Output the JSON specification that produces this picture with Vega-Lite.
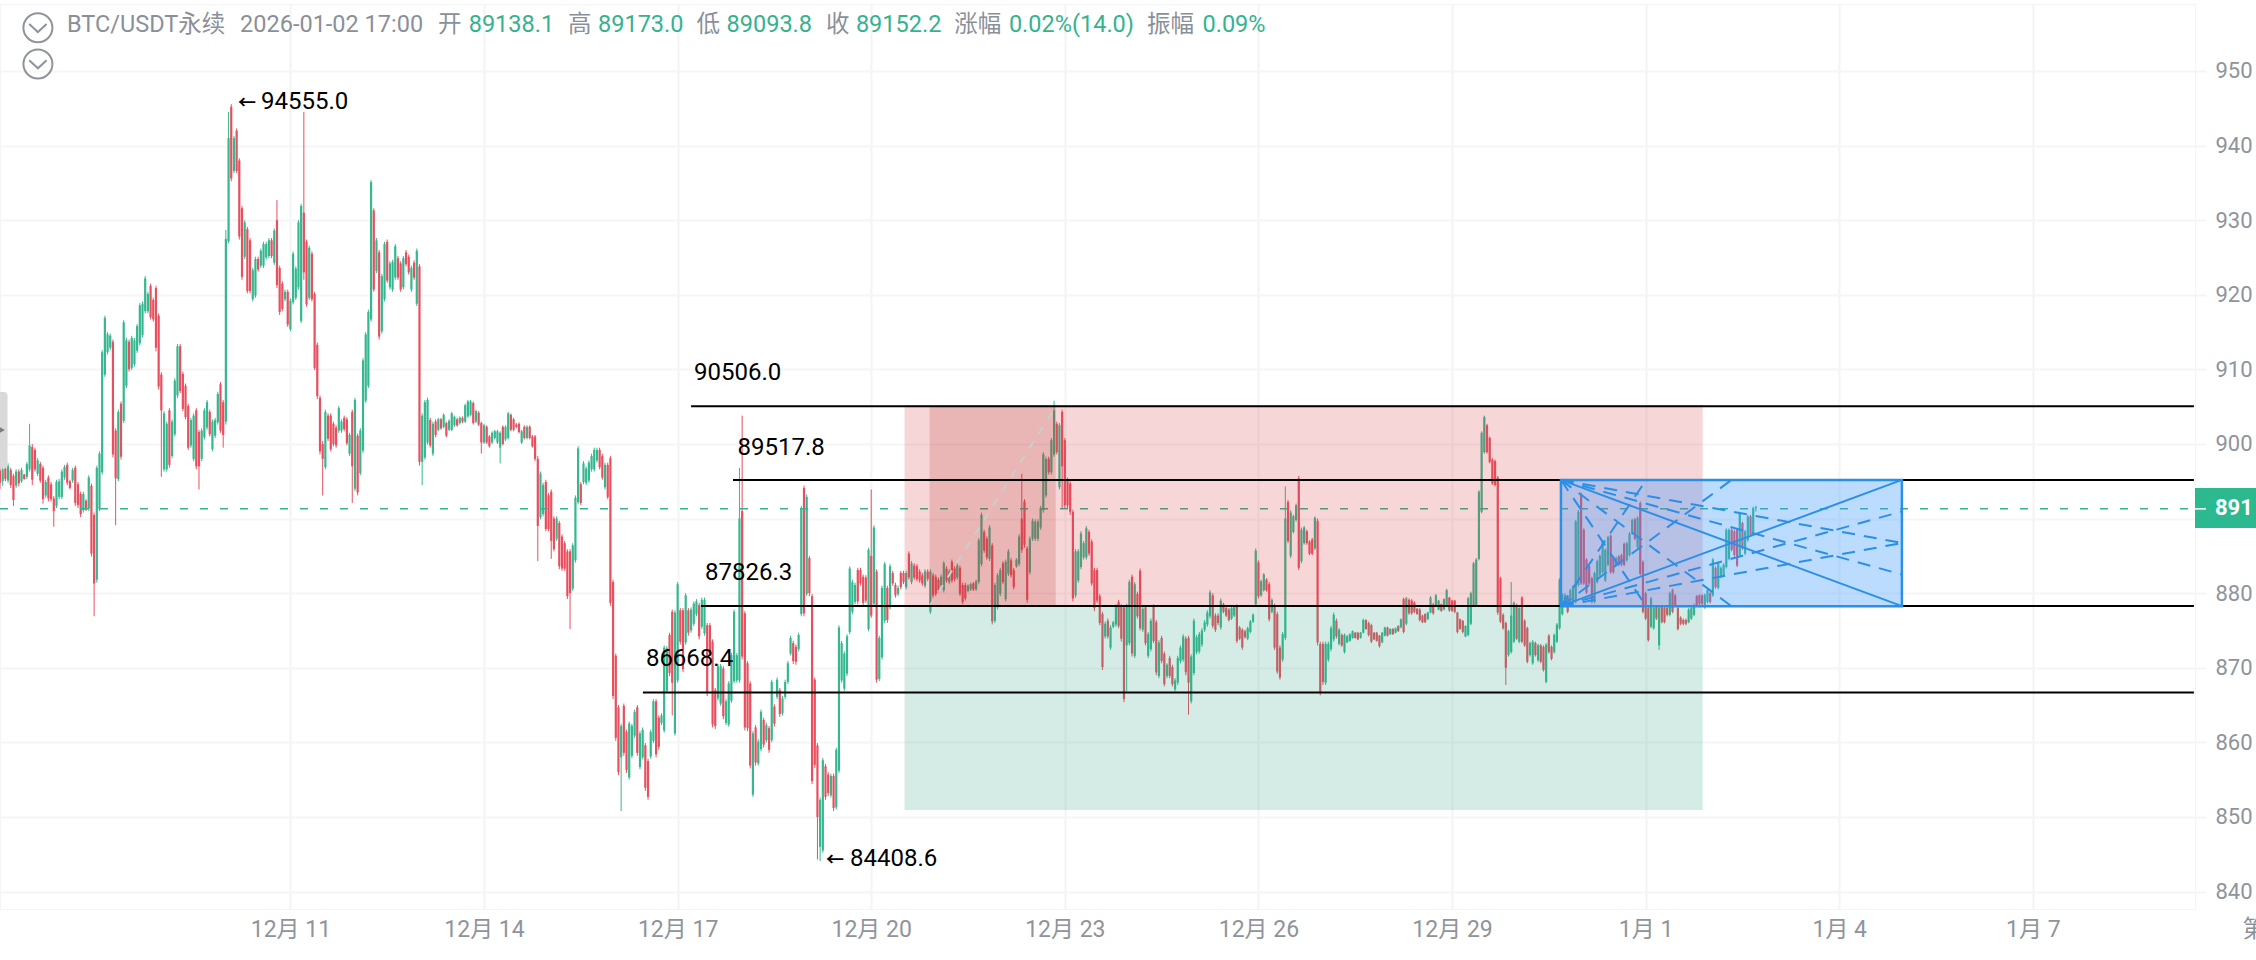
{"$schema":"https://vega.github.io/schema/vega-lite/v6.json","width":2195,"height":905,"autosize":"none","padding":{"top":4,"left":0,"right":61,"bottom":51},"background":"white","config":{"view":{"stroke":"#f3f4f6"},"font":"Roboto, Noto Sans CJK SC"},
"datasets":{"candles":[
{"i":0,"o":89640,"h":89700,"l":89400,"c":89480},{"i":1,"o":89500,"h":89720,"l":89440,"c":89660},{"i":2,"o":89670,"h":89700,"l":89500,"c":89530},{"i":3,"o":89510,"h":89740,"l":89480,"c":89700},{"i":4,"o":89650,"h":89680,"l":89410,"c":89450},{"i":5,"o":89570,"h":89600,"l":89170,"c":89250},{"i":6,"o":89440,"h":89660,"l":89410,"c":89630},{"i":7,"o":89630,"h":89660,"l":89430,"c":89470},{"i":8,"o":89500,"h":89680,"l":89480,"c":89650},{"i":9,"o":89590,"h":89600,"l":89520,"c":89530},{"i":10,"o":89560,"h":89760,"l":89530,"c":89730},{"i":11,"o":89660,"h":90270,"l":89630,"c":89980},{"i":12,"o":89960,"h":90000,"l":89450,"c":89520},{"i":13,"o":89920,"h":89950,"l":89630,"c":89660},{"i":14,"o":89600,"h":89810,"l":89570,"c":89780},{"i":15,"o":89730,"h":89760,"l":89480,"c":89510},{"i":16,"o":89680,"h":89710,"l":89200,"c":89260},{"i":17,"o":89310,"h":89520,"l":89280,"c":89490},{"i":18,"o":89550,"h":89580,"l":89230,"c":89270},{"i":19,"o":89460,"h":89490,"l":89230,"c":89260},{"i":20,"o":89270,"h":89300,"l":88890,"c":89100},{"i":21,"o":89170,"h":89520,"l":89140,"c":89490},{"i":22,"o":89290,"h":89530,"l":89260,"c":89500},{"i":23,"o":89290,"h":89660,"l":89260,"c":89630},{"i":24,"o":89550,"h":89720,"l":89520,"c":89690},{"i":25,"o":89720,"h":89750,"l":89450,"c":89480},{"i":26,"o":89500,"h":89520,"l":89390,"c":89410},{"i":27,"o":89510,"h":89680,"l":89480,"c":89650},{"i":28,"o":89680,"h":89710,"l":89170,"c":89210},{"i":29,"o":89460,"h":89490,"l":89140,"c":89180},{"i":30,"o":89330,"h":89360,"l":89020,"c":89060},{"i":31,"o":89110,"h":89360,"l":89080,"c":89330},{"i":32,"o":89240,"h":89260,"l":89100,"c":89120},{"i":33,"o":89130,"h":89580,"l":89100,"c":89550},{"i":34,"o":89440,"h":89470,"l":88490,"c":88530},{"i":35,"o":89050,"h":89080,"l":87690,"c":88130},{"i":36,"o":88180,"h":89710,"l":88140,"c":89680},{"i":37,"o":89130,"h":89900,"l":89100,"c":89870},{"i":38,"o":89620,"h":91260,"l":89590,"c":91230},{"i":39,"o":90930,"h":91720,"l":90900,"c":91690},{"i":40,"o":91230,"h":91500,"l":91200,"c":91470},{"i":41,"o":91290,"h":91480,"l":91260,"c":91450},{"i":42,"o":91370,"h":91400,"l":89820,"c":89860},{"i":43,"o":90180,"h":90210,"l":88910,"c":89540},{"i":44,"o":89530,"h":90460,"l":89500,"c":90430},{"i":45,"o":90540,"h":90570,"l":89790,"c":89830},{"i":46,"o":90310,"h":91660,"l":90280,"c":91630},{"i":47,"o":90780,"h":91420,"l":90750,"c":91390},{"i":48,"o":91370,"h":91400,"l":90970,"c":91000},{"i":49,"o":91020,"h":91450,"l":90990,"c":91420},{"i":50,"o":91070,"h":91420,"l":91040,"c":91390},{"i":51,"o":91250,"h":91610,"l":91220,"c":91580},{"i":52,"o":91350,"h":91890,"l":91320,"c":91860},{"i":53,"o":91460,"h":91910,"l":91430,"c":91880},{"i":54,"o":91780,"h":92250,"l":91750,"c":92220},{"i":55,"o":91780,"h":92040,"l":91750,"c":92010},{"i":56,"o":92120,"h":92150,"l":91670,"c":91700},{"i":57,"o":91930,"h":91960,"l":91640,"c":91670},{"i":58,"o":92090,"h":92120,"l":91240,"c":91290},{"i":59,"o":91720,"h":91750,"l":90730,"c":90770},{"i":60,"o":90930,"h":90960,"l":89560,"c":90450},{"i":61,"o":89660,"h":90440,"l":89630,"c":90410},{"i":62,"o":89660,"h":90300,"l":89630,"c":90270},{"i":63,"o":90450,"h":90480,"l":89680,"c":89720},{"i":64,"o":89840,"h":90330,"l":89810,"c":90300},{"i":65,"o":90130,"h":90880,"l":90100,"c":90850},{"i":66,"o":90650,"h":91340,"l":90620,"c":91310},{"i":67,"o":91310,"h":91340,"l":90680,"c":90710},{"i":68,"o":90940,"h":90970,"l":90440,"c":90470},{"i":69,"o":90780,"h":90810,"l":90330,"c":90360},{"i":70,"o":90510,"h":90540,"l":89920,"c":89950},{"i":71,"o":89980,"h":90350,"l":89950,"c":90320},{"i":72,"o":89800,"h":90410,"l":89770,"c":90380},{"i":73,"o":90450,"h":90480,"l":89660,"c":89700},{"i":74,"o":90160,"h":90190,"l":89390,"c":89700},{"i":75,"o":89800,"h":90210,"l":89770,"c":90180},{"i":76,"o":90090,"h":90480,"l":90060,"c":90450},{"i":77,"o":90220,"h":90590,"l":90190,"c":90560},{"i":78,"o":90430,"h":90460,"l":90100,"c":90130},{"i":79,"o":89930,"h":90330,"l":89900,"c":90300},{"i":80,"o":90110,"h":90350,"l":90080,"c":90320},{"i":81,"o":90290,"h":90700,"l":90260,"c":90670},{"i":82,"o":90800,"h":90830,"l":90150,"c":90180},{"i":83,"o":90560,"h":90590,"l":89950,"c":90120},{"i":84,"o":90300,"h":92870,"l":90260,"c":92750},{"i":85,"o":92720,"h":94450,"l":92690,"c":94100},{"i":86,"o":94520,"h":94555,"l":93520,"c":93560},{"i":87,"o":93660,"h":94130,"l":93630,"c":94100},{"i":88,"o":94200,"h":94230,"l":93630,"c":93660},{"i":89,"o":93800,"h":93830,"l":92740,"c":92780},{"i":90,"o":93160,"h":93190,"l":92200,"c":92240},{"i":91,"o":92510,"h":93000,"l":92480,"c":92970},{"i":92,"o":92880,"h":92910,"l":92020,"c":92050},{"i":93,"o":92730,"h":92760,"l":92020,"c":92050},{"i":94,"o":91940,"h":92360,"l":91910,"c":92330},{"i":95,"o":91990,"h":92510,"l":91960,"c":92480},{"i":96,"o":92480,"h":92510,"l":92310,"c":92340},{"i":97,"o":92390,"h":92620,"l":92360,"c":92590},{"i":98,"o":92390,"h":92710,"l":92360,"c":92680},{"i":99,"o":92500,"h":92710,"l":92470,"c":92680},{"i":100,"o":92520,"h":92760,"l":92490,"c":92730},{"i":101,"o":92730,"h":92760,"l":92490,"c":92520},{"i":102,"o":92430,"h":92890,"l":92400,"c":92860},{"i":103,"o":93000,"h":93270,"l":92090,"c":92130},{"i":104,"o":92360,"h":92390,"l":91730,"c":91770},{"i":105,"o":92150,"h":92180,"l":91780,"c":91810},{"i":106,"o":91940,"h":92070,"l":91910,"c":92040},{"i":107,"o":92040,"h":92070,"l":91570,"c":91600},{"i":108,"o":91540,"h":91950,"l":91510,"c":91920},{"i":109,"o":91900,"h":92580,"l":91870,"c":92550},{"i":110,"o":91960,"h":92380,"l":91930,"c":92350},{"i":111,"o":92100,"h":93000,"l":92070,"c":92970},{"i":112,"o":91650,"h":93220,"l":91620,"c":93190},{"i":113,"o":93100,"h":94450,"l":92200,"c":92300},{"i":114,"o":92710,"h":92740,"l":91840,"c":91870},{"i":115,"o":91960,"h":92660,"l":91930,"c":92630},{"i":116,"o":92550,"h":92580,"l":91910,"c":91940},{"i":117,"o":92010,"h":92040,"l":90990,"c":91020},{"i":118,"o":91330,"h":91360,"l":90600,"c":90640},{"i":119,"o":90620,"h":90650,"l":89860,"c":89900},{"i":120,"o":90000,"h":90040,"l":89310,"c":89800},{"i":121,"o":89690,"h":90460,"l":89660,"c":90430},{"i":122,"o":90380,"h":90410,"l":90040,"c":90070},{"i":123,"o":90380,"h":90410,"l":89900,"c":89930},{"i":124,"o":90270,"h":90300,"l":89970,"c":90000},{"i":125,"o":90220,"h":90250,"l":89950,"c":89980},{"i":126,"o":90180,"h":90510,"l":90150,"c":90480},{"i":127,"o":90180,"h":90330,"l":90150,"c":90300},{"i":128,"o":90350,"h":90380,"l":90170,"c":90200},{"i":129,"o":90330,"h":90360,"l":89980,"c":90010},{"i":130,"o":89870,"h":90150,"l":89840,"c":90120},{"i":131,"o":90430,"h":90460,"l":89210,"c":89700},{"i":132,"o":89400,"h":90620,"l":89370,"c":90590},{"i":133,"o":90110,"h":90140,"l":89310,"c":89350},{"i":134,"o":89610,"h":90210,"l":89580,"c":90180},{"i":135,"o":89910,"h":91150,"l":89880,"c":91120},{"i":136,"o":90580,"h":91500,"l":90550,"c":91470},{"i":137,"o":90780,"h":91800,"l":90750,"c":91770},{"i":138,"o":91670,"h":93540,"l":91640,"c":93510},{"i":139,"o":93130,"h":93160,"l":92040,"c":92070},{"i":140,"o":92320,"h":92760,"l":92290,"c":92730},{"i":141,"o":92570,"h":92600,"l":91400,"c":91440},{"i":142,"o":91510,"h":92280,"l":91480,"c":92250},{"i":143,"o":91940,"h":92710,"l":91910,"c":92680},{"i":144,"o":92710,"h":92740,"l":92160,"c":92190},{"i":145,"o":92100,"h":92450,"l":92070,"c":92420},{"i":146,"o":92070,"h":92470,"l":92040,"c":92440},{"i":147,"o":92230,"h":92680,"l":92200,"c":92650},{"i":148,"o":92490,"h":92520,"l":92200,"c":92230},{"i":149,"o":92420,"h":92450,"l":92040,"c":92070},{"i":150,"o":92100,"h":92520,"l":92070,"c":92490},{"i":151,"o":92570,"h":92600,"l":92380,"c":92410},{"i":152,"o":92510,"h":92540,"l":92270,"c":92300},{"i":153,"o":92070,"h":92390,"l":92040,"c":92360},{"i":154,"o":92430,"h":92460,"l":92200,"c":92230},{"i":155,"o":91880,"h":92620,"l":91850,"c":92590},{"i":156,"o":92380,"h":92410,"l":89710,"c":89760},{"i":157,"o":89760,"h":90410,"l":89450,"c":90380},{"i":158,"o":89820,"h":90590,"l":89790,"c":90560},{"i":159,"o":90020,"h":90620,"l":89990,"c":90590},{"i":160,"o":90320,"h":90350,"l":89950,"c":89980},{"i":161,"o":89870,"h":90300,"l":89840,"c":90270},{"i":162,"o":90300,"h":90330,"l":90090,"c":90120},{"i":163,"o":90190,"h":90350,"l":90170,"c":90330},{"i":164,"o":90330,"h":90350,"l":90190,"c":90210},{"i":165,"o":90230,"h":90410,"l":90210,"c":90390},{"i":166,"o":90280,"h":90300,"l":90090,"c":90110},{"i":167,"o":90190,"h":90330,"l":90170,"c":90310},{"i":168,"o":90190,"h":90430,"l":90170,"c":90410},{"i":169,"o":90250,"h":90380,"l":90230,"c":90360},{"i":170,"o":90330,"h":90350,"l":90230,"c":90250},{"i":171,"o":90280,"h":90370,"l":90260,"c":90350},{"i":172,"o":90350,"h":90370,"l":90280,"c":90300},{"i":173,"o":90300,"h":90540,"l":90280,"c":90520},{"i":174,"o":90370,"h":90590,"l":90350,"c":90570},{"i":175,"o":90390,"h":90590,"l":90370,"c":90570},{"i":176,"o":90550,"h":90570,"l":90260,"c":90280},{"i":177,"o":90300,"h":90460,"l":90280,"c":90440},{"i":178,"o":90420,"h":90440,"l":90240,"c":90260},{"i":179,"o":90280,"h":90300,"l":89870,"c":90020},{"i":180,"o":90020,"h":90270,"l":90000,"c":90250},{"i":181,"o":90230,"h":90250,"l":90000,"c":90020},{"i":182,"o":90100,"h":90120,"l":89950,"c":89970},{"i":183,"o":90020,"h":90170,"l":90000,"c":90150},{"i":184,"o":90080,"h":90190,"l":90060,"c":90170},{"i":185,"o":90020,"h":90190,"l":90000,"c":90170},{"i":186,"o":89950,"h":90170,"l":89740,"c":90150},{"i":187,"o":90230,"h":90250,"l":89980,"c":90000},{"i":188,"o":90060,"h":90250,"l":90040,"c":90230},{"i":189,"o":90080,"h":90430,"l":90060,"c":90410},{"i":190,"o":90390,"h":90410,"l":90170,"c":90190},{"i":191,"o":90330,"h":90350,"l":90170,"c":90190},{"i":192,"o":90260,"h":90280,"l":90210,"c":90230},{"i":193,"o":90270,"h":90290,"l":90140,"c":90160},{"i":194,"o":90020,"h":90190,"l":90000,"c":90170},{"i":195,"o":90230,"h":90250,"l":90060,"c":90080},{"i":196,"o":90080,"h":90250,"l":90060,"c":90230},{"i":197,"o":90230,"h":90250,"l":90060,"c":90080},{"i":198,"o":90100,"h":90120,"l":89950,"c":89970},{"i":199,"o":90100,"h":90120,"l":89770,"c":89800},{"i":200,"o":89800,"h":89840,"l":88430,"c":88900},{"i":201,"o":89020,"h":89630,"l":88990,"c":89600},{"i":202,"o":89060,"h":89480,"l":89030,"c":89450},{"i":203,"o":89490,"h":89520,"l":88830,"c":88860},{"i":204,"o":89310,"h":89340,"l":88830,"c":88860},{"i":205,"o":89360,"h":89390,"l":88460,"c":88700},{"i":206,"o":89000,"h":89030,"l":88560,"c":88590},{"i":207,"o":88730,"h":89030,"l":88700,"c":89000},{"i":208,"o":88940,"h":88970,"l":88320,"c":88360},{"i":209,"o":88760,"h":88790,"l":88300,"c":88330},{"i":210,"o":88670,"h":88700,"l":88300,"c":88330},{"i":211,"o":88560,"h":88590,"l":87920,"c":87960},{"i":212,"o":88560,"h":88590,"l":87520,"c":88000},{"i":213,"o":88060,"h":88670,"l":88030,"c":88640},{"i":214,"o":88440,"h":89310,"l":88410,"c":89280},{"i":215,"o":89220,"h":89970,"l":89190,"c":89940},{"i":216,"o":89460,"h":89490,"l":89180,"c":89210},{"i":217,"o":89490,"h":89770,"l":89460,"c":89740},{"i":218,"o":89480,"h":89700,"l":89450,"c":89670},{"i":219,"o":89510,"h":89780,"l":89480,"c":89750},{"i":220,"o":89660,"h":89870,"l":89630,"c":89840},{"i":221,"o":89660,"h":89950,"l":89630,"c":89920},{"i":222,"o":89780,"h":89950,"l":89750,"c":89920},{"i":223,"o":89920,"h":89950,"l":89660,"c":89690},{"i":224,"o":89840,"h":89870,"l":89520,"c":89550},{"i":225,"o":89420,"h":89750,"l":89390,"c":89720},{"i":226,"o":89720,"h":89750,"l":89260,"c":89290},{"i":227,"o":89810,"h":89840,"l":87830,"c":87870},{"i":228,"o":88150,"h":88180,"l":86580,"c":86620},{"i":229,"o":87160,"h":87190,"l":86020,"c":86060},{"i":230,"o":86470,"h":86500,"l":85560,"c":85600},{"i":231,"o":85800,"h":86250,"l":85080,"c":86220},{"i":232,"o":86490,"h":86520,"l":85820,"c":85860},{"i":233,"o":86140,"h":86170,"l":85590,"c":85630},{"i":234,"o":85530,"h":86280,"l":85500,"c":86250},{"i":235,"o":85820,"h":86250,"l":85790,"c":86220},{"i":236,"o":86090,"h":86440,"l":86060,"c":86410},{"i":237,"o":86470,"h":86500,"l":85820,"c":85860},{"i":238,"o":85670,"h":86150,"l":85640,"c":86120},{"i":239,"o":85800,"h":86200,"l":85770,"c":86170},{"i":240,"o":85960,"h":85990,"l":85350,"c":85390},{"i":241,"o":85750,"h":85780,"l":85230,"c":85270},{"i":242,"o":85810,"h":86170,"l":85780,"c":86140},{"i":243,"o":86020,"h":86580,"l":85990,"c":86550},{"i":244,"o":86550,"h":86580,"l":85800,"c":85840},{"i":245,"o":86330,"h":86360,"l":85900,"c":85940},{"i":246,"o":86260,"h":86390,"l":86230,"c":86360},{"i":247,"o":86160,"h":87300,"l":86130,"c":87270},{"i":248,"o":86690,"h":87290,"l":86660,"c":87260},{"i":249,"o":87440,"h":87470,"l":86890,"c":86930},{"i":250,"o":87750,"h":87780,"l":86360,"c":86800},{"i":251,"o":86120,"h":87770,"l":86090,"c":87740},{"i":252,"o":86830,"h":88150,"l":86800,"c":88120},{"i":253,"o":87770,"h":87800,"l":87310,"c":87350},{"i":254,"o":87770,"h":87800,"l":86940,"c":86980},{"i":255,"o":87340,"h":88000,"l":87310,"c":87970},{"i":256,"o":87770,"h":87800,"l":87430,"c":87470},{"i":257,"o":87500,"h":87810,"l":87470,"c":87780},{"i":258,"o":87590,"h":87890,"l":87560,"c":87860},{"i":259,"o":87720,"h":87920,"l":87690,"c":87890},{"i":260,"o":87840,"h":87870,"l":87380,"c":87420},{"i":261,"o":87550,"h":87940,"l":87520,"c":87910},{"i":262,"o":87460,"h":87940,"l":87430,"c":87910},{"i":263,"o":87570,"h":87600,"l":86620,"c":86660},{"i":264,"o":87570,"h":87600,"l":87160,"c":87200},{"i":265,"o":87350,"h":87380,"l":86200,"c":86240},{"i":266,"o":86700,"h":86730,"l":86180,"c":86220},{"i":267,"o":86590,"h":87050,"l":86560,"c":87020},{"i":268,"o":86520,"h":87050,"l":86490,"c":87020},{"i":269,"o":86990,"h":87020,"l":86310,"c":86350},{"i":270,"o":86260,"h":86580,"l":86230,"c":86550},{"i":271,"o":86240,"h":86820,"l":86210,"c":86790},{"i":272,"o":86560,"h":87200,"l":86530,"c":87170},{"i":273,"o":86820,"h":87780,"l":86790,"c":87750},{"i":274,"o":86830,"h":87200,"l":86800,"c":87170},{"i":275,"o":86830,"h":89680,"l":86800,"c":89000},{"i":276,"o":89100,"h":90380,"l":87110,"c":87150},{"i":277,"o":87730,"h":87760,"l":86160,"c":86200},{"i":278,"o":87060,"h":87090,"l":86150,"c":86190},{"i":279,"o":86790,"h":86820,"l":85650,"c":85690},{"i":280,"o":85300,"h":86150,"l":85270,"c":86120},{"i":281,"o":86200,"h":86230,"l":85690,"c":85730},{"i":282,"o":85720,"h":86040,"l":85690,"c":86010},{"i":283,"o":85910,"h":86440,"l":85880,"c":86410},{"i":284,"o":86300,"h":86330,"l":85930,"c":85970},{"i":285,"o":86030,"h":86260,"l":86000,"c":86230},{"i":286,"o":86190,"h":86220,"l":85860,"c":85900},{"i":287,"o":86030,"h":86840,"l":86000,"c":86810},{"i":288,"o":86480,"h":86510,"l":86210,"c":86250},{"i":289,"o":86610,"h":86870,"l":86580,"c":86840},{"i":290,"o":86700,"h":86730,"l":86340,"c":86380},{"i":291,"o":86390,"h":86620,"l":86360,"c":86590},{"i":292,"o":86610,"h":86840,"l":86580,"c":86810},{"i":293,"o":86810,"h":87090,"l":86780,"c":87060},{"i":294,"o":87190,"h":87430,"l":87165,"c":87400},{"i":295,"o":87330,"h":87360,"l":87050,"c":87090},{"i":296,"o":87280,"h":87310,"l":87040,"c":87080},{"i":297,"o":87250,"h":87470,"l":87220,"c":87440},{"i":298,"o":87720,"h":89170,"l":87690,"c":89140},{"i":299,"o":89410,"h":89440,"l":87690,"c":87730},{"i":300,"o":87990,"h":89320,"l":87960,"c":89290},{"i":301,"o":88470,"h":88500,"l":87960,"c":88000},{"i":302,"o":87960,"h":87990,"l":85440,"c":85480},{"i":303,"o":86840,"h":86870,"l":85660,"c":85700},{"i":304,"o":85960,"h":85990,"l":84430,"c":85000},{"i":305,"o":84600,"h":85260,"l":84409,"c":85230},{"i":306,"o":84550,"h":85790,"l":84520,"c":85760},{"i":307,"o":85680,"h":85710,"l":85230,"c":85270},{"i":308,"o":85570,"h":85600,"l":85280,"c":85320},{"i":309,"o":85290,"h":85580,"l":85260,"c":85550},{"i":310,"o":85550,"h":85580,"l":85080,"c":85120},{"i":311,"o":85130,"h":85930,"l":85100,"c":85900},{"i":312,"o":85620,"h":87570,"l":85590,"c":87540},{"i":313,"o":86830,"h":87360,"l":86800,"c":87330},{"i":314,"o":86720,"h":87220,"l":86690,"c":87190},{"i":315,"o":86920,"h":87450,"l":86890,"c":87420},{"i":316,"o":87480,"h":88360,"l":87450,"c":88330},{"i":317,"o":87750,"h":88180,"l":87720,"c":88150},{"i":318,"o":87880,"h":88140,"l":87850,"c":88110},{"i":319,"o":88310,"h":88340,"l":87850,"c":87890},{"i":320,"o":88310,"h":88340,"l":88100,"c":88130},{"i":321,"o":88220,"h":88250,"l":87830,"c":87870},{"i":322,"o":88210,"h":88240,"l":87870,"c":87900},{"i":323,"o":87520,"h":88610,"l":87490,"c":88580},{"i":324,"o":88500,"h":89390,"l":87670,"c":87700},{"i":325,"o":87860,"h":88910,"l":87830,"c":88880},{"i":326,"o":88290,"h":88320,"l":86800,"c":86840},{"i":327,"o":86850,"h":87430,"l":86820,"c":87400},{"i":328,"o":87140,"h":88100,"l":87110,"c":88070},{"i":329,"o":87630,"h":88420,"l":87600,"c":88390},{"i":330,"o":88070,"h":88100,"l":87600,"c":87640},{"i":331,"o":87810,"h":88390,"l":87780,"c":88360},{"i":332,"o":88270,"h":88300,"l":88100,"c":88130},{"i":333,"o":88110,"h":88140,"l":87940,"c":87970},{"i":334,"o":87990,"h":88100,"l":87960,"c":88070},{"i":335,"o":88270,"h":88300,"l":88050,"c":88080},{"i":336,"o":88270,"h":88300,"l":88120,"c":88150},{"i":337,"o":88080,"h":88300,"l":88050,"c":88270},{"i":338,"o":88530,"h":88560,"l":88180,"c":88210},{"i":339,"o":88150,"h":88430,"l":88120,"c":88400},{"i":340,"o":88370,"h":88400,"l":88180,"c":88210},{"i":341,"o":88360,"h":88390,"l":88160,"c":88190},{"i":342,"o":88290,"h":88320,"l":88140,"c":88170},{"i":343,"o":88240,"h":88270,"l":88100,"c":88130},{"i":344,"o":88100,"h":88320,"l":88070,"c":88290},{"i":345,"o":88290,"h":88320,"l":88160,"c":88190},{"i":346,"o":87750,"h":88320,"l":87720,"c":88290},{"i":347,"o":88240,"h":88270,"l":87940,"c":87970},{"i":348,"o":88220,"h":88250,"l":87960,"c":87990},{"i":349,"o":88180,"h":88210,"l":88010,"c":88040},{"i":350,"o":88100,"h":88250,"l":88070,"c":88220},{"i":351,"o":88040,"h":88430,"l":88010,"c":88400},{"i":352,"o":88330,"h":88360,"l":88140,"c":88170},{"i":353,"o":88150,"h":88320,"l":88120,"c":88290},{"i":354,"o":88420,"h":88450,"l":88140,"c":88170},{"i":355,"o":88330,"h":88360,"l":88160,"c":88190},{"i":356,"o":88210,"h":88400,"l":88180,"c":88370},{"i":357,"o":88340,"h":88370,"l":87960,"c":87990},{"i":358,"o":88110,"h":88140,"l":87850,"c":87880},{"i":359,"o":88110,"h":88140,"l":87900,"c":87930},{"i":360,"o":88030,"h":88120,"l":88010,"c":88100},{"i":361,"o":88050,"h":88140,"l":88030,"c":88120},{"i":362,"o":88130,"h":88150,"l":88030,"c":88050},{"i":363,"o":88050,"h":88180,"l":88030,"c":88160},{"i":364,"o":88150,"h":88740,"l":88120,"c":88710},{"i":365,"o":88390,"h":89080,"l":88360,"c":89050},{"i":366,"o":88820,"h":88850,"l":88540,"c":88570},{"i":367,"o":88730,"h":88760,"l":88450,"c":88480},{"i":368,"o":88460,"h":88910,"l":88430,"c":88880},{"i":369,"o":88640,"h":88670,"l":87580,"c":87620},{"i":370,"o":87630,"h":88140,"l":87600,"c":88110},{"i":371,"o":87810,"h":88270,"l":87780,"c":88240},{"i":372,"o":87990,"h":88340,"l":87960,"c":88310},{"i":373,"o":88400,"h":88430,"l":88120,"c":88150},{"i":374,"o":87920,"h":88450,"l":87890,"c":88420},{"i":375,"o":88260,"h":88590,"l":88230,"c":88560},{"i":376,"o":88440,"h":88470,"l":88210,"c":88240},{"i":377,"o":88310,"h":88340,"l":88050,"c":88080},{"i":378,"o":88360,"h":88470,"l":88340,"c":88450},{"i":379,"o":88390,"h":88790,"l":88360,"c":88760},{"i":380,"o":89000,"h":89600,"l":88540,"c":88580},{"i":381,"o":89230,"h":89260,"l":88610,"c":88650},{"i":382,"o":88600,"h":88630,"l":87870,"c":87910},{"i":383,"o":88280,"h":88760,"l":88250,"c":88730},{"i":384,"o":88730,"h":89000,"l":88700,"c":88970},{"i":385,"o":88730,"h":88990,"l":88700,"c":88960},{"i":386,"o":88730,"h":88990,"l":88700,"c":88960},{"i":387,"o":88880,"h":89170,"l":88850,"c":89140},{"i":388,"o":89110,"h":89890,"l":89080,"c":89860},{"i":389,"o":89310,"h":89830,"l":89280,"c":89800},{"i":390,"o":89800,"h":89830,"l":89590,"c":89620},{"i":391,"o":89620,"h":90080,"l":89590,"c":90050},{"i":392,"o":89860,"h":90580,"l":89830,"c":90450},{"i":393,"o":90270,"h":90300,"l":89860,"c":89890},{"i":394,"o":89420,"h":90280,"l":89390,"c":90250},{"i":395,"o":90430,"h":90460,"l":89140,"c":89700},{"i":396,"o":90050,"h":90080,"l":89140,"c":89180},{"i":397,"o":89520,"h":89550,"l":89140,"c":89180},{"i":398,"o":89470,"h":89500,"l":89050,"c":89090},{"i":399,"o":89090,"h":89120,"l":87890,"c":87930},{"i":400,"o":87970,"h":88590,"l":87940,"c":88560},{"i":401,"o":88170,"h":88590,"l":88140,"c":88560},{"i":402,"o":88350,"h":88830,"l":88320,"c":88800},{"i":403,"o":88480,"h":88700,"l":88450,"c":88670},{"i":404,"o":88480,"h":88900,"l":88450,"c":88870},{"i":405,"o":88820,"h":88850,"l":88500,"c":88530},{"i":406,"o":88690,"h":88720,"l":88100,"c":88130},{"i":407,"o":88310,"h":88340,"l":87760,"c":87800},{"i":408,"o":88310,"h":88340,"l":87870,"c":87900},{"i":409,"o":87960,"h":87990,"l":87570,"c":87600},{"i":410,"o":87720,"h":87750,"l":86970,"c":87010},{"i":411,"o":87420,"h":87620,"l":87390,"c":87590},{"i":412,"o":87630,"h":87660,"l":87390,"c":87420},{"i":413,"o":87270,"h":87570,"l":87240,"c":87540},{"i":414,"o":87550,"h":87630,"l":87530,"c":87610},{"i":415,"o":87580,"h":87850,"l":87550,"c":87820},{"i":416,"o":87880,"h":87910,"l":87530,"c":87560},{"i":417,"o":87820,"h":87850,"l":87350,"c":87390},{"i":418,"o":87810,"h":87840,"l":86540,"c":86580},{"i":419,"o":87300,"h":87860,"l":86680,"c":87830},{"i":420,"o":87330,"h":88180,"l":87300,"c":88150},{"i":421,"o":88220,"h":88250,"l":87150,"c":87190},{"i":422,"o":87160,"h":88150,"l":87130,"c":88120},{"i":423,"o":87990,"h":88020,"l":87660,"c":87690},{"i":424,"o":88300,"h":88330,"l":87500,"c":87530},{"i":425,"o":87510,"h":87820,"l":87480,"c":87790},{"i":426,"o":87810,"h":87840,"l":87300,"c":87330},{"i":427,"o":87160,"h":87480,"l":87130,"c":87450},{"i":428,"o":87250,"h":87660,"l":87220,"c":87630},{"i":429,"o":87820,"h":87850,"l":87330,"c":87360},{"i":430,"o":87610,"h":87640,"l":86900,"c":86940},{"i":431,"o":86890,"h":87370,"l":86860,"c":87340},{"i":432,"o":87400,"h":87430,"l":87060,"c":87090},{"i":433,"o":87190,"h":87220,"l":86750,"c":86780},{"i":434,"o":86890,"h":87060,"l":86860,"c":87040},{"i":435,"o":87130,"h":87160,"l":86860,"c":86890},{"i":436,"o":87010,"h":87040,"l":86750,"c":86780},{"i":437,"o":86710,"h":86860,"l":86680,"c":86830},{"i":438,"o":86800,"h":87160,"l":86770,"c":87130},{"i":439,"o":87090,"h":87300,"l":87060,"c":87270},{"i":440,"o":87110,"h":87450,"l":87080,"c":87420},{"i":441,"o":87390,"h":87420,"l":86900,"c":86940},{"i":442,"o":87400,"h":87430,"l":86370,"c":86800},{"i":443,"o":86550,"h":87180,"l":86520,"c":87150},{"i":444,"o":86930,"h":87660,"l":86900,"c":87630},{"i":445,"o":87210,"h":87440,"l":87180,"c":87410},{"i":446,"o":87220,"h":87480,"l":87190,"c":87450},{"i":447,"o":87310,"h":87530,"l":87280,"c":87500},{"i":448,"o":87510,"h":87640,"l":87480,"c":87610},{"i":449,"o":87580,"h":87770,"l":87550,"c":87740},{"i":450,"o":87690,"h":88040,"l":87660,"c":88010},{"i":451,"o":87970,"h":88000,"l":87530,"c":87560},{"i":452,"o":87700,"h":87730,"l":87480,"c":87510},{"i":453,"o":87700,"h":87730,"l":87570,"c":87600},{"i":454,"o":87540,"h":87930,"l":87510,"c":87900},{"i":455,"o":87850,"h":87870,"l":87730,"c":87750},{"i":456,"o":87800,"h":87820,"l":87680,"c":87700},{"i":457,"o":87780,"h":87800,"l":87620,"c":87640},{"i":458,"o":87660,"h":87820,"l":87640,"c":87800},{"i":459,"o":87700,"h":87840,"l":87680,"c":87820},{"i":460,"o":87820,"h":87850,"l":87330,"c":87360},{"i":461,"o":87540,"h":87560,"l":87370,"c":87390},{"i":462,"o":87510,"h":87530,"l":87240,"c":87270},{"i":463,"o":87490,"h":87510,"l":87390,"c":87410},{"i":464,"o":87390,"h":87550,"l":87370,"c":87530},{"i":465,"o":87480,"h":87640,"l":87460,"c":87620},{"i":466,"o":87620,"h":87730,"l":87600,"c":87710},{"i":467,"o":87850,"h":88600,"l":87820,"c":88570},{"i":468,"o":88410,"h":88440,"l":87930,"c":87960},{"i":469,"o":87970,"h":88180,"l":87950,"c":88160},{"i":470,"o":88040,"h":88270,"l":88020,"c":88250},{"i":471,"o":88180,"h":88200,"l":88020,"c":88040},{"i":472,"o":88120,"h":88150,"l":87620,"c":87650},{"i":473,"o":87750,"h":87930,"l":87730,"c":87910},{"i":474,"o":87830,"h":87860,"l":87240,"c":87270},{"i":475,"o":87720,"h":87750,"l":86920,"c":86950},{"i":476,"o":87270,"h":87300,"l":86840,"c":86870},{"i":477,"o":87110,"h":87480,"l":87080,"c":87450},{"i":478,"o":87400,"h":89430,"l":87370,"c":89000},{"i":479,"o":89220,"h":89250,"l":88670,"c":88700},{"i":480,"o":88500,"h":89110,"l":88470,"c":89080},{"i":481,"o":88820,"h":89050,"l":88800,"c":89030},{"i":482,"o":88980,"h":89200,"l":88960,"c":89180},{"i":483,"o":89540,"h":89570,"l":88310,"c":88340},{"i":484,"o":88430,"h":88880,"l":88400,"c":88850},{"i":485,"o":88670,"h":88900,"l":88650,"c":88880},{"i":486,"o":88830,"h":88850,"l":88650,"c":88670},{"i":487,"o":88690,"h":88710,"l":88510,"c":88530},{"i":488,"o":88720,"h":88740,"l":88510,"c":88530},{"i":489,"o":88600,"h":89030,"l":88580,"c":89010},{"i":490,"o":88970,"h":89000,"l":87300,"c":87340},{"i":491,"o":87320,"h":87350,"l":86630,"c":86670},{"i":492,"o":87320,"h":87350,"l":86770,"c":86810},{"i":493,"o":86800,"h":87350,"l":86770,"c":87320},{"i":494,"o":87110,"h":87350,"l":87080,"c":87320},{"i":495,"o":87250,"h":87560,"l":87220,"c":87530},{"i":496,"o":87380,"h":87740,"l":87350,"c":87710},{"i":497,"o":87630,"h":87660,"l":87390,"c":87420},{"i":498,"o":87320,"h":87530,"l":87300,"c":87510},{"i":499,"o":87440,"h":87460,"l":87280,"c":87300},{"i":500,"o":87210,"h":87460,"l":87190,"c":87440},{"i":501,"o":87340,"h":87440,"l":87330,"c":87420},{"i":502,"o":87360,"h":87460,"l":87350,"c":87450},{"i":503,"o":87400,"h":87500,"l":87390,"c":87490},{"i":504,"o":87470,"h":87480,"l":87390,"c":87400},{"i":505,"o":87470,"h":87480,"l":87370,"c":87380},{"i":506,"o":87400,"h":87480,"l":87390,"c":87470},{"i":507,"o":87470,"h":87660,"l":87460,"c":87640},{"i":508,"o":87640,"h":87650,"l":87510,"c":87520},{"i":509,"o":87600,"h":87620,"l":87420,"c":87440},{"i":510,"o":87570,"h":87590,"l":87330,"c":87350},{"i":511,"o":87470,"h":87480,"l":87370,"c":87380},{"i":512,"o":87470,"h":87480,"l":87350,"c":87360},{"i":513,"o":87430,"h":87440,"l":87270,"c":87290},{"i":514,"o":87340,"h":87480,"l":87330,"c":87470},{"i":515,"o":87430,"h":87550,"l":87420,"c":87540},{"i":516,"o":87540,"h":87550,"l":87420,"c":87430},{"i":517,"o":87450,"h":87530,"l":87440,"c":87520},{"i":518,"o":87520,"h":87530,"l":87440,"c":87450},{"i":519,"o":87470,"h":87540,"l":87460,"c":87530},{"i":520,"o":87560,"h":87570,"l":87480,"c":87490},{"i":521,"o":87540,"h":87660,"l":87530,"c":87650},{"i":522,"o":87920,"h":87940,"l":87460,"c":87480},{"i":523,"o":87590,"h":87950,"l":87570,"c":87930},{"i":524,"o":87910,"h":87930,"l":87710,"c":87730},{"i":525,"o":87900,"h":87920,"l":87710,"c":87730},{"i":526,"o":87870,"h":87890,"l":87730,"c":87750},{"i":527,"o":87790,"h":87800,"l":87710,"c":87720},{"i":528,"o":87780,"h":87800,"l":87620,"c":87640},{"i":529,"o":87700,"h":87710,"l":87600,"c":87610},{"i":530,"o":87720,"h":87730,"l":87600,"c":87610},{"i":531,"o":87650,"h":87750,"l":87640,"c":87740},{"i":532,"o":87740,"h":87960,"l":87730,"c":87940},{"i":533,"o":87850,"h":87870,"l":87710,"c":87730},{"i":534,"o":87830,"h":87990,"l":87820,"c":87970},{"i":535,"o":87780,"h":87910,"l":87770,"c":87900},{"i":536,"o":87850,"h":87860,"l":87750,"c":87760},{"i":537,"o":87780,"h":87930,"l":87770,"c":87920},{"i":538,"o":87830,"h":88060,"l":87820,"c":88040},{"i":539,"o":87940,"h":87950,"l":87750,"c":87770},{"i":540,"o":87900,"h":87910,"l":87750,"c":87760},{"i":541,"o":87900,"h":87910,"l":87730,"c":87750},{"i":542,"o":87740,"h":87750,"l":87460,"c":87480},{"i":543,"o":87650,"h":87660,"l":87510,"c":87520},{"i":544,"o":87630,"h":87640,"l":87460,"c":87480},{"i":545,"o":87420,"h":87570,"l":87410,"c":87560},{"i":546,"o":87440,"h":87950,"l":87420,"c":87930},{"i":547,"o":87590,"h":88020,"l":87570,"c":88000},{"i":548,"o":87840,"h":88420,"l":87820,"c":88400},{"i":549,"o":87840,"h":88470,"l":87820,"c":88450},{"i":550,"o":88460,"h":89380,"l":88440,"c":89360},{"i":551,"o":89090,"h":90170,"l":89070,"c":90150},{"i":552,"o":89890,"h":90380,"l":89870,"c":90360},{"i":553,"o":90250,"h":90270,"l":89870,"c":89890},{"i":554,"o":90080,"h":90100,"l":89740,"c":89760},{"i":555,"o":89790,"h":89810,"l":89450,"c":89470},{"i":556,"o":89770,"h":89790,"l":89430,"c":89450},{"i":557,"o":89550,"h":89570,"l":87710,"c":87740},{"i":558,"o":88200,"h":88220,"l":87600,"c":87620},{"i":559,"o":87710,"h":87730,"l":87510,"c":87530},{"i":560,"o":87600,"h":87620,"l":86770,"c":87000},{"i":561,"o":87170,"h":87510,"l":87150,"c":87490},{"i":562,"o":87210,"h":88150,"l":87190,"c":87700},{"i":563,"o":87350,"h":87890,"l":87330,"c":87870},{"i":564,"o":87840,"h":87860,"l":87370,"c":87390},{"i":565,"o":87350,"h":87820,"l":87330,"c":87800},{"i":566,"o":87940,"h":87960,"l":87330,"c":87350},{"i":567,"o":87630,"h":87650,"l":87280,"c":87300},{"i":568,"o":87530,"h":87550,"l":87060,"c":87080},{"i":569,"o":87170,"h":87350,"l":87150,"c":87330},{"i":570,"o":87060,"h":87370,"l":87040,"c":87350},{"i":571,"o":87330,"h":87350,"l":87150,"c":87170},{"i":572,"o":87100,"h":87320,"l":87080,"c":87300},{"i":573,"o":87300,"h":87320,"l":87060,"c":87080},{"i":574,"o":87280,"h":87300,"l":86950,"c":86970},{"i":575,"o":86810,"h":87330,"l":86790,"c":87310},{"i":576,"o":87430,"h":87450,"l":87190,"c":87210},{"i":577,"o":87280,"h":87300,"l":87100,"c":87120},{"i":578,"o":87210,"h":87460,"l":87190,"c":87440},{"i":579,"o":87350,"h":87600,"l":87330,"c":87580},{"i":580,"o":87530,"h":88200,"l":87510,"c":88180},{"i":581,"o":87720,"h":88000,"l":87700,"c":87980},{"i":582,"o":87840,"h":88000,"l":87820,"c":87980},{"i":583,"o":87950,"h":87975,"l":87730,"c":87750},{"i":584,"o":87860,"h":88060,"l":87840,"c":88040},{"i":585,"o":87880,"h":88110,"l":87860,"c":88090},{"i":586,"o":87880,"h":88980,"l":87860,"c":88960},{"i":587,"o":88110,"h":89115,"l":88085,"c":89090},{"i":588,"o":89330,"h":89350,"l":88110,"c":88130},{"i":589,"o":88850,"h":88870,"l":88110,"c":88130},{"i":590,"o":88450,"h":88470,"l":87990,"c":88010},{"i":591,"o":88360,"h":88380,"l":88110,"c":88130},{"i":592,"o":88200,"h":88220,"l":87860,"c":87880},{"i":593,"o":87880,"h":88290,"l":87860,"c":88270},{"i":594,"o":88150,"h":88450,"l":88130,"c":88430},{"i":595,"o":88240,"h":88520,"l":88220,"c":88500},{"i":596,"o":88280,"h":88710,"l":88260,"c":88690},{"i":597,"o":88170,"h":88600,"l":88150,"c":88580},{"i":598,"o":88380,"h":88770,"l":88360,"c":88750},{"i":599,"o":88770,"h":88790,"l":88260,"c":88280},{"i":600,"o":88470,"h":88490,"l":88260,"c":88280},{"i":601,"o":88380,"h":88490,"l":88360,"c":88470},{"i":602,"o":88490,"h":88510,"l":88360,"c":88380},{"i":603,"o":88510,"h":88530,"l":88360,"c":88380},{"i":604,"o":88660,"h":88680,"l":88360,"c":88380},{"i":605,"o":88440,"h":88690,"l":88420,"c":88670},{"i":606,"o":88510,"h":88820,"l":88490,"c":88800},{"i":607,"o":88800,"h":89000,"l":88780,"c":88980},{"i":608,"o":88990,"h":89010,"l":88710,"c":88730},{"i":609,"o":88620,"h":89030,"l":88600,"c":89010},{"i":610,"o":89210,"h":89230,"l":88240,"c":88260},{"i":611,"o":88420,"h":88440,"l":87730,"c":87750},{"i":612,"o":88000,"h":88020,"l":87640,"c":87660},{"i":613,"o":87800,"h":87820,"l":87350,"c":87370},{"i":614,"o":87550,"h":87950,"l":87530,"c":87930},{"i":615,"o":87530,"h":87820,"l":87510,"c":87800},{"i":616,"o":87820,"h":87840,"l":87640,"c":87660},{"i":617,"o":87300,"h":87820,"l":87240,"c":87800},{"i":618,"o":87820,"h":87840,"l":87595,"c":87610},{"i":619,"o":87800,"h":87820,"l":87595,"c":87610},{"i":620,"o":87800,"h":87820,"l":87690,"c":87710},{"i":621,"o":87710,"h":88020,"l":87690,"c":88000},{"i":622,"o":88040,"h":88060,"l":87730,"c":87750},{"i":623,"o":87970,"h":87990,"l":87820,"c":87840},{"i":624,"o":87800,"h":87820,"l":87500,"c":87520},{"i":625,"o":87670,"h":87690,"l":87570,"c":87590},{"i":626,"o":87640,"h":87660,"l":87570,"c":87590},{"i":627,"o":87640,"h":87660,"l":87570,"c":87590},{"i":628,"o":87610,"h":87800,"l":87595,"c":87780},{"i":629,"o":87660,"h":87820,"l":87640,"c":87800},{"i":630,"o":87710,"h":87860,"l":87690,"c":87840},{"i":631,"o":87960,"h":87975,"l":87820,"c":87840},{"i":632,"o":87970,"h":87985,"l":87840,"c":87860},{"i":633,"o":87970,"h":87985,"l":87840,"c":87860},{"i":634,"o":87810,"h":87995,"l":87790,"c":87980},{"i":635,"o":87880,"h":88060,"l":87860,"c":88040},{"i":636,"o":88000,"h":88020,"l":87860,"c":87880},{"i":637,"o":87970,"h":88470,"l":87950,"c":88450},{"i":638,"o":88340,"h":88360,"l":88060,"c":88080},{"i":639,"o":88070,"h":88420,"l":88050,"c":88400},{"i":640,"o":88220,"h":88360,"l":88200,"c":88340},{"i":641,"o":88240,"h":88400,"l":88220,"c":88380},{"i":642,"o":88350,"h":88870,"l":88330,"c":88850},{"i":643,"o":88460,"h":88870,"l":88440,"c":88850},{"i":644,"o":88850,"h":88870,"l":88560,"c":88580},{"i":645,"o":88830,"h":88850,"l":88490,"c":88510},{"i":646,"o":88850,"h":88870,"l":88350,"c":88370},{"i":647,"o":88510,"h":89090,"l":88490,"c":89070},{"i":648,"o":88940,"h":88960,"l":88580,"c":88600},{"i":649,"o":88530,"h":88850,"l":88510,"c":88830},{"i":650,"o":88710,"h":89050,"l":88690,"c":89030},{"i":651,"o":89030,"h":89050,"l":88760,"c":88780},{"i":652,"o":88800,"h":89160,"l":88780,"c":89140},{"i":653,"o":89138.1,"h":89173,"l":89093.8,"c":89152.2}],
"zones":[{"a":336.4,"b":633.2,"p":87826,"q":85094,"k":"g"},{"a":336.4,"b":633.2,"p":90520,"q":87826,"k":"r"},{"a":345.7,"b":392.6,"p":90520,"q":87826,"k":"d"}],
"levels":[{"a":257,"b":815.9,"p":90506},{"a":272.6,"b":815.9,"p":89517.8},{"a":260.7,"b":815.9,"p":87826.3},{"a":239.1,"b":815.9,"p":86668.4}],
"fanSolid":[{"a":580.5,"b":707.3,"p":89518,"q":87826},{"a":580.5,"b":707.3,"p":87826,"q":89518}],
"fanDash":[{"a":580.5,"b":707.3,"p":89518,"q":88672},{"a":580.5,"b":707.3,"p":89518,"q":88250},{"a":580.5,"b":612.2,"p":89518,"q":87826},{"a":580.5,"b":643.9,"p":89518,"q":87826},{"a":580.5,"b":707.3,"p":87826,"q":88672},{"a":580.5,"b":707.3,"p":87826,"q":89095},{"a":580.5,"b":612.2,"p":87826,"q":89518},{"a":580.5,"b":643.9,"p":87826,"q":89518}],
"gray":[{"i":24.9,"p":95617,"t":"BTC/USDT永续"},{"i":89.3,"p":95617,"t":"2026-01-02 17:00"},{"i":162.9,"p":95617,"t":"开"},{"i":211.2,"p":95617,"t":"高"},{"i":259,"p":95617,"t":"低"},{"i":307.2,"p":95617,"t":"收"},{"i":354.9,"p":95617,"t":"涨幅"},{"i":426.6,"p":95617,"t":"振幅"},{"i":834,"p":83485,"t":"第"}],
"green":[{"i":174.3,"p":95617,"t":"89138.1"},{"i":222.4,"p":95617,"t":"89173.0"},{"i":270.2,"p":95617,"t":"89093.8"},{"i":318.3,"p":95617,"t":"89152.2"},{"i":375.2,"p":95617,"t":"0.02%(14.0)"},{"i":447.2,"p":95617,"t":"0.09%"}],
"black":[{"i":258.1,"p":90952,"t":"90506.0"},{"i":274.3,"p":89946,"t":"89517.8"},{"i":262.2,"p":88270,"t":"87826.3"},{"i":240.2,"p":87118,"t":"86668.4"},{"i":97.1,"p":94584,"t":"94555.0"},{"i":316.1,"p":84437,"t":"84408.6"}],
"arrows":[{"i":88.5,"p":94560,"t":"←"},{"i":307.2,"p":84413,"t":"←"}]},
"encoding":{"x":{"field":"i","type":"quantitative","scale":{"domain":[0,816.3],"nice":false,"zero":false,"padding":0},"axis":{"orient":"bottom","title":null,"values":[108,180,252,324,396,468,540,612,684,756],"labelExpr":"{'108':'12月 11','180':'12月 14','252':'12月 17','324':'12月 20','396':'12月 23','468':'12月 26','540':'12月 29','612':'1月 1','684':'1月 4','756':'1月 7'}[datum.value]","grid":true,"gridColor":"#f3f4f6","gridWidth":2,"domain":false,"ticks":false,"labelPadding":9,"labelFontSize":23,"labelColor":"#8f949b","labelFlush":false,"labelOverlap":false}},"y":{"field":"p","type":"quantitative","scale":{"domain":[83766,95898],"nice":false,"zero":false,"padding":0},"axis":{"orient":"right","title":null,"values":[84000,85000,86000,87000,88000,89000,90000,91000,92000,93000,94000,95000],"labelExpr":"datum.value==89000?'':floor(datum.value/100)+''","grid":true,"gridColor":"#f5f6f7","gridWidth":2,"domain":false,"tickColor":"#f3f4f6","tickWidth":2,"tickSize":11,"labelPadding":9,"labelFontSize":22,"labelColor":"#8f949b","labelOverlap":false}}},
"layer":[
{"data":{"name":"candles"},"mark":{"type":"rule","strokeWidth":1},"encoding":{"y":{"field":"l","type":"quantitative"},"y2":{"field":"h"},"color":{"condition":{"test":"datum.c>=datum.o","value":"#35b890"},"value":"#e8505f"}}},
{"data":{"name":"candles"},"mark":{"type":"bar","size":2.2},"encoding":{"y":{"field":"o","type":"quantitative"},"y2":{"field":"c"},"color":{"condition":{"test":"datum.c>=datum.o","value":"#35b890"},"value":"#e8505f"}}},
{"data":{"values":[{"a":0,"b":816.3,"p":89130}]},"mark":{"type":"rule","color":"#35b28e","strokeWidth":1.5,"strokeDash":[8,12]},"encoding":{"x":{"field":"a","type":"quantitative"},"x2":{"field":"b"}}},
{"data":{"name":"zones"},"mark":{"type":"rect"},"encoding":{"x":{"field":"a","type":"quantitative"},"x2":{"field":"b"},"y":{"field":"p","type":"quantitative"},"y2":{"field":"q"},"color":{"field":"k","type":"nominal","scale":{"domain":["g","r","d"],"range":["#26a17b","#d7333d","#b4302f"]},"legend":null},"opacity":{"value":0.2}}},
{"data":{"values":[{"a":345.7,"b":392.6,"p":87826,"q":90500}]},"mark":{"type":"rule","color":"#c4d2cc","strokeWidth":2,"strokeDash":[8,9]},"encoding":{"x":{"field":"a","type":"quantitative"},"x2":{"field":"b"},"y":{"field":"p","type":"quantitative"},"y2":{"field":"q"}}},
{"data":{"name":"levels"},"mark":{"type":"rule","color":"#000000","strokeWidth":2},"encoding":{"x":{"field":"a","type":"quantitative"},"x2":{"field":"b"}}},
{"data":{"values":[{"a":580.5,"b":707.3,"p":89518,"q":87826}]},"mark":{"type":"rect","fill":"#3d9bff","fillOpacity":0.35,"stroke":"#2b8fe8","strokeWidth":2.5},"encoding":{"x":{"field":"a","type":"quantitative"},"x2":{"field":"b"},"y":{"field":"p","type":"quantitative"},"y2":{"field":"q"}}},
{"data":{"name":"fanSolid"},"mark":{"type":"rule","color":"#2b8fe8","strokeWidth":2},"encoding":{"x":{"field":"a","type":"quantitative"},"x2":{"field":"b"},"y":{"field":"p","type":"quantitative"},"y2":{"field":"q"}}},
{"data":{"name":"fanDash"},"mark":{"type":"rule","color":"#2b8fe8","strokeWidth":2,"strokeDash":[13,9]},"encoding":{"x":{"field":"a","type":"quantitative"},"x2":{"field":"b"},"y":{"field":"p","type":"quantitative"},"y2":{"field":"q"}}},
{"data":{"values":[{"a":0,"b":2.8,"p":90697,"q":89678}]},"mark":{"type":"rect","color":"#d9d9d9","cornerRadiusTopRight":5,"cornerRadiusBottomRight":5},"encoding":{"x":{"field":"a","type":"quantitative"},"x2":{"field":"b"},"y":{"field":"p","type":"quantitative"},"y2":{"field":"q"}}},
{"data":{"values":[{"i":0.8,"p":90187}]},"mark":{"type":"point","shape":"triangle-right","filled":true,"color":"#555555","size":40}},
{"data":{"values":[{"i":14.1,"p":95580},{"i":14.1,"p":95094}]},"mark":{"type":"point","shape":"circle","filled":false,"color":"#8f949b","strokeWidth":2,"size":841,"opacity":1}},
{"data":{"values":[{"i":14.1,"p":95580},{"i":14.1,"p":95094}]},"mark":{"type":"point","shape":"M-0.6,-0.25L0,0.3L0.6,-0.25","filled":false,"color":"#8f949b","strokeWidth":2,"size":841,"opacity":1}},
{"data":{"name":"gray"},"mark":{"type":"text","align":"left","baseline":"middle","fontSize":23.5,"color":"#8a9099"},"encoding":{"text":{"field":"t"}}},
{"data":{"name":"green"},"mark":{"type":"text","align":"left","baseline":"middle","fontSize":23.5,"color":"#35b28e"},"encoding":{"text":{"field":"t"}}},
{"data":{"name":"black"},"mark":{"type":"text","align":"left","baseline":"middle","fontSize":24,"color":"#000000"},"encoding":{"text":{"field":"t"}}},
{"data":{"name":"arrows"},"mark":{"type":"text","align":"left","baseline":"middle","fontSize":18,"fontWeight":"bold","color":"#000000"},"encoding":{"text":{"field":"t"}}},
{"data":{"values":[{"a":816.3,"b":839,"p":89410,"q":88874}]},"mark":{"type":"rect","color":"#2cb98f"},"encoding":{"x":{"field":"a","type":"quantitative"},"x2":{"field":"b"},"y":{"field":"p","type":"quantitative"},"y2":{"field":"q"}}},
{"data":{"values":[{"a":816.3,"b":820.4,"p":89130}]},"mark":{"type":"rule","color":"#ffffff","strokeWidth":1.5},"encoding":{"x":{"field":"a","type":"quantitative"},"x2":{"field":"b"}}},
{"data":{"values":[{"i":823.7,"p":89142,"t":"891"}]},"mark":{"type":"text","align":"left","baseline":"middle","fontSize":22,"fontWeight":"bold","color":"#ffffff"},"encoding":{"text":{"field":"t"}}}
]}
